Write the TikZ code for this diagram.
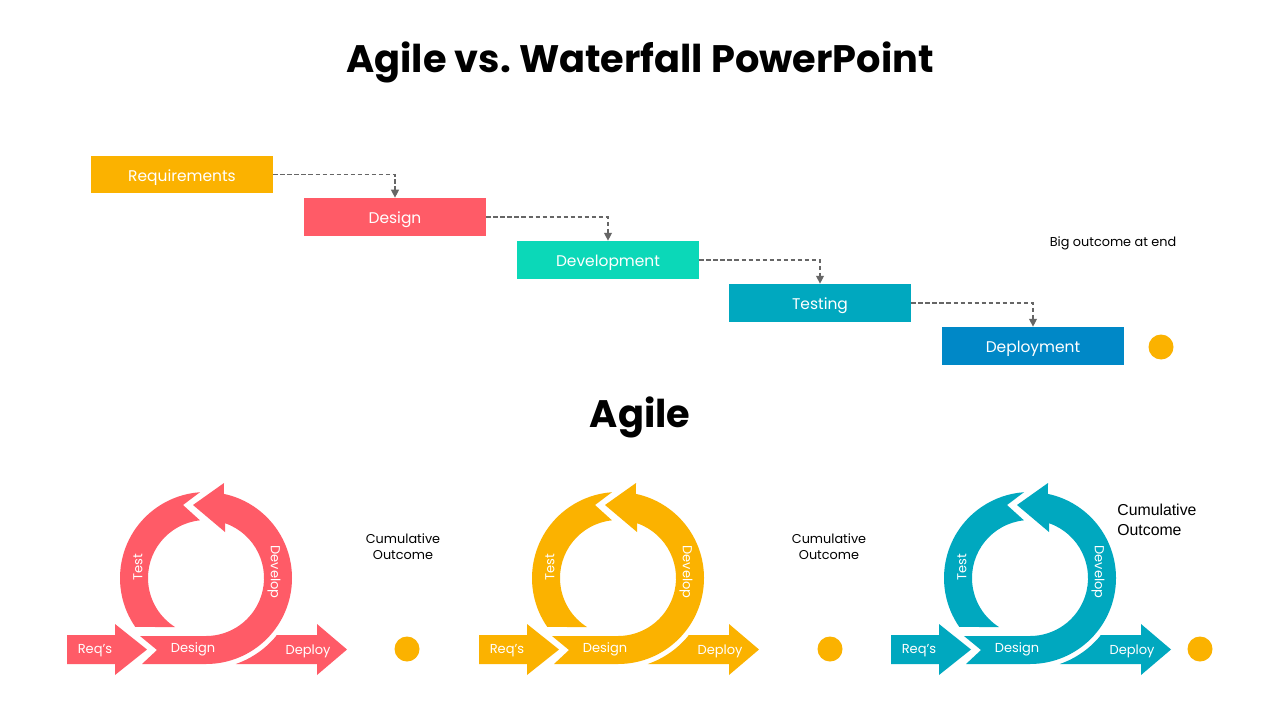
\documentclass[tikz,border=0pt]{standalone}
\usepackage{fontspec}
\setmainfont{Poppins}
\newfontfamily\robo{Liberation Sans}
\usetikzlibrary{arrows.meta}
\frenchspacing
\definecolor{cyel}{HTML}{FBB200}
\definecolor{ccor}{HTML}{FF5B67}
\definecolor{cgrn}{HTML}{0BD8B8}
\definecolor{ctea}{HTML}{00A8BF}
\definecolor{cblu}{HTML}{0088C7}
\definecolor{cgry}{HTML}{666666}
\tikzset{
  wbox/.style={fill=#1, text=white, minimum width=3.64cm, minimum height=0.76cm, inner sep=0pt,
    text height=7.4pt, text depth=0pt, font=\fontsize{8.8}{10}\selectfont},
  conn/.style={draw=cgry, line width=0.7pt, dash pattern=on 2.5pt off 1.5pt, -{Triangle[length=4.5pt,width=4.5pt]}},
  lbl/.style={text=white, inner sep=0pt, font=\fontsize{7.4}{9}\selectfont},
  small/.style={inner sep=0pt, align=center, font=\fontsize{7.3}{9}\selectfont},
  ttl/.style={inner sep=0pt, anchor=base, font=\fontsize{21.8}{24}\selectfont\bfseries},
  dot/.style={circle, fill=cyel, minimum size=0.5cm, inner sep=0pt}
}
\newcommand\agcycle[3]{%
\begin{scope}[shift={(206+#2,578)}]
  \fill[#1] (-139,57) -- (-91,57) -- (-91,46) -- (-59,71.5) -- (-91,97) -- (-91,86) -- (-139,86) -- cycle;
  \fill[#1] (-66,58) -- (-49,72) -- (-64,86) -- (0,86) arc[start angle=90,end angle=-78,radius=86]
     -- (18,-95) -- (-13,-73) -- (19,-46) -- (19,-54.8) arc[start angle=-70.9,end angle=90,radius=58] -- cycle;
  \fill[#1] (145.3:86) arc[start angle=145.3,end angle=266,radius=86] -- (-23,-73) -- (264:58)
     arc[start angle=264,end angle=122.3,radius=58] -- cycle;
  \fill[#1] (70.1,57) -- (111,57) -- (111,46) -- (141,71.5) -- (111,97) -- (111,86) -- (29.8,86)
     arc[start angle=70.9,end angle=38.8,radius=91] -- cycle;
  \node[lbl] (#3req) at (-111,72.5) {Req's};
  \node[lbl] (#3des) at (-13,71.5) {Design};
  \node[lbl] (#3dep) at (102,73) {Deploy};
  \node[lbl, rotate=90] (#3tst) at (-68,-11) {Test};
  \node[lbl, rotate=-90] (#3dev) at (68,-6) {Develop};
\end{scope}}
\begin{document}
\begin{tikzpicture}[x=0.02cm, y=-0.02cm]
\useasboundingbox[fill=white] (0,0) rectangle (1280,720);
\node[ttl] (title) at (640,72) {Agile vs.\ Waterfall PowerPoint};
\node[wbox=cyel] (req) at (182,174.5) {Requirements};
\node[wbox=ccor] (des) at (395,217) {Design};
\node[wbox=cgrn] (dev) at (608,260) {Development};
\node[wbox=ctea] (tst) at (820,303) {Testing};
\node[wbox=cblu] (dep) at (1033,346) {Deployment};
\draw[conn] (req.east) -| (des.north);
\draw[conn] (des.east) -| (dev.north);
\draw[conn] (dev.east) -| (tst.north);
\draw[conn] (tst.east) -| (dep.north);
\node[small] (big) at (1113,243) {Big outcome at end};
\node[dot] (wdot) at (1161,347) {};
\node[ttl] (agile) at (640,427) {Agile};
\agcycle{ccor}{0}{a}
\agcycle{cyel}{412}{b}
\agcycle{ctea}{824}{c}
\node[small] (cum1) at (403,547) {Cumulative\\Outcome};
\node[small] (cum2) at (829,547) {Cumulative\\Outcome};
\node[inner sep=0pt, align=left, anchor=west, font=\robo\fontsize{9}{11}\selectfont] (cum3) at (1117,520) {Cumulative\\Outcome};
\node[dot] (d1) at (407,649) {};
\node[dot] (d2) at (830,649) {};
\node[dot] (d3) at (1200,649) {};
\end{tikzpicture}
\end{document}
